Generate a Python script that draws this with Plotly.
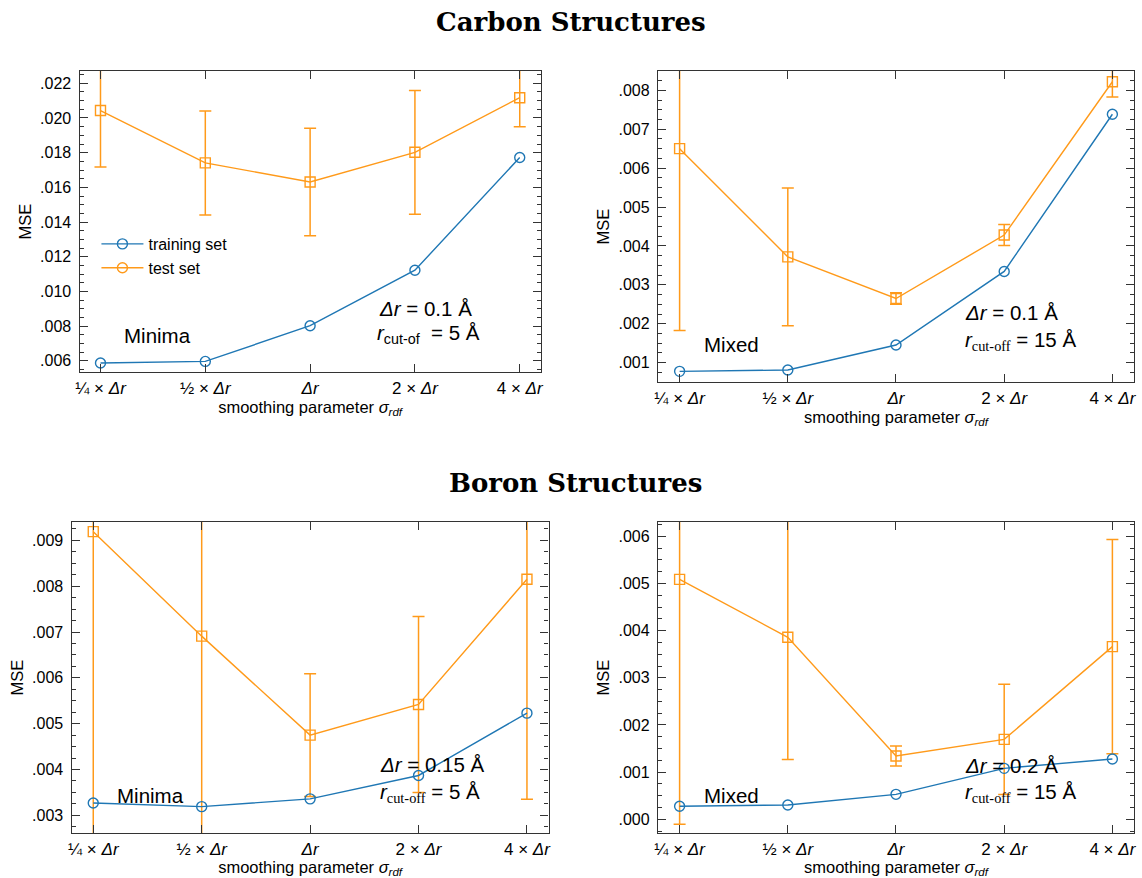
import plotly.graph_objects as go

W, H = 1142, 878

# --- data ---------------------------------------------------------------
x_pos = [0, 1, 2, 3, 4]
x_labels = ["¼ × <i>Δr</i>", "½ × <i>Δr</i>", "<i>Δr</i>", "2 × <i>Δr</i>", "4 × <i>Δr</i>"]

carbon_minima_train = [0.00587, 0.00596, 0.00802, 0.01122, 0.01772]
carbon_minima_test = [0.02043, 0.01741, 0.01631, 0.01802, 0.02117]
carbon_minima_err = [0.00325, 0.00300, 0.00310, 0.00357, 0.00167]

carbon_mixed_train = [0.000778, 0.000812, 0.001454, 0.003345, 0.007384]
carbon_mixed_test = [0.00650, 0.00372, 0.00265, 0.00428, 0.00822]
carbon_mixed_err = [0.00467, 0.00177, 0.00015, 0.00027, 0.00039]

boron_minima_train = [0.00327, 0.00319, 0.00336, 0.00387, 0.00523]
boron_minima_test = [0.00919, 0.00691, 0.00475, 0.00542, 0.00815]
boron_minima_err = [0.0068, 0.0045, 0.00134, 0.00192, 0.0048]

boron_mixed_train = [0.000276, 0.000304, 0.00053, 0.001081, 0.001279]
boron_mixed_test = [0.005088, 0.003859, 0.001343, 0.001695, 0.003661]
boron_mixed_err = [0.00519, 0.00259, 0.00021, 0.00117, 0.00227]

carbon_minima_yticks = [0.006, 0.008, 0.010, 0.012, 0.014, 0.016, 0.018, 0.020, 0.022]
carbon_minima_ylabels = [".006", ".008", ".010", ".012", ".014", ".016", ".018", ".020", ".022"]
carbon_mixed_yticks = [0.001, 0.002, 0.003, 0.004, 0.005, 0.006, 0.007, 0.008]
carbon_mixed_ylabels = [".001", ".002", ".003", ".004", ".005", ".006", ".007", ".008"]
boron_minima_yticks = [0.003, 0.004, 0.005, 0.006, 0.007, 0.008, 0.009]
boron_minima_ylabels = [".003", ".004", ".005", ".006", ".007", ".008", ".009"]
boron_mixed_yticks = [0.000, 0.001, 0.002, 0.003, 0.004, 0.005, 0.006]
boron_mixed_ylabels = [".000", ".001", ".002", ".003", ".004", ".005", ".006"]

BLUE = "#1f77b4"
ORANGE = "#ff9a1a"
AXIS = "#333333"
SANS = "Liberation Sans, Arial, sans-serif"
SERIF = "DejaVu Serif, Liberation Serif, serif"


def px_x(p):
    return p / W


def px_y(p):
    return 1 - p / H


# panel boxes in pixels: (left, right, top, bottom)
panels = [
    dict(box=(76, 540, 71, 372), train=carbon_minima_train, test=carbon_minima_test,
         err=carbon_minima_err, yr=[0.00535, 0.02271], yt=carbon_minima_yticks,
         yl=carbon_minima_ylabels, minor=0.0005),
    dict(box=(658, 1137, 71, 382), train=carbon_mixed_train, test=carbon_mixed_test,
         err=carbon_mixed_err, yr=[0.000504, 0.008496], yt=carbon_mixed_yticks,
         yl=carbon_mixed_ylabels, minor=0.00025),
    dict(box=(68, 548, 522, 833), train=boron_minima_train, test=boron_minima_test,
         err=boron_minima_err, yr=[0.002615, 0.0094], yt=boron_minima_yticks,
         yl=boron_minima_ylabels, minor=0.00025),
    dict(box=(658, 1137, 522, 833), train=boron_mixed_train, test=boron_mixed_test,
         err=boron_mixed_err, yr=[-0.00029, 0.006304], yt=boron_mixed_yticks,
         yl=boron_mixed_ylabels, minor=0.00025),
]

fig = go.Figure()
layout = dict(
    width=W, height=H,
    margin=dict(l=0, r=0, t=0, b=0),
    paper_bgcolor="white", plot_bgcolor="white",
    font=dict(family=SANS, size=16, color="black"),
    showlegend=True,
)

for i, p in enumerate(panels):
    n = "" if i == 0 else str(i + 1)
    xa, ya = "x" + n, "y" + n
    l, r, t, b = p["box"]
    layout["xaxis" + n] = dict(
        domain=[px_x(l), px_x(r)], anchor=ya, range=[-0.2, 4.2],
        tickvals=x_pos, ticktext=x_labels, ticks="inside", ticklen=8,
        tickcolor=AXIS, tickwidth=1, showline=True, linecolor=AXIS, linewidth=1.3,
        mirror="allticks", showgrid=False, zeroline=False,
        tickfont=dict(size=17, family=SANS),
        title=dict(text="smoothing parameter <i>σ<sub>rdf</sub></i>",
                   font=dict(size=16.5, family=SANS), standoff=4),
    )
    layout["yaxis" + n] = dict(
        domain=[px_y(b), px_y(t)], anchor=xa, range=p["yr"],
        tickvals=p["yt"], ticktext=p["yl"], ticks="inside", ticklen=8,
        tickcolor=AXIS, tickwidth=1, showline=True, linecolor=AXIS, linewidth=1.3,
        mirror="allticks", showgrid=False, zeroline=False,
        tickfont=dict(size=16, family=SANS), ticklabelstandoff=4,
        minor=dict(ticks="inside", ticklen=4, tickcolor=AXIS, dtick=p["minor"],
                   tick0=0, showgrid=False),
        title=dict(text="MSE", font=dict(size=16.5, family=SANS), standoff=4),
    )
    fig.add_trace(go.Scatter(
        x=x_pos, y=p["test"], xaxis=xa, yaxis=ya, mode="lines+markers",
        line=dict(color=ORANGE, width=1.4),
        marker=dict(symbol="square-open", size=10, color=ORANGE, line=dict(width=1.4)),
        error_y=dict(type="data", array=p["err"], visible=True, color=ORANGE,
                     thickness=1.5, width=6),
        showlegend=False, name="test set",
    ))
    fig.add_trace(go.Scatter(
        x=x_pos, y=p["train"], xaxis=xa, yaxis=ya, mode="lines+markers",
        line=dict(color=BLUE, width=1.4),
        marker=dict(symbol="circle-open", size=10, color=BLUE, line=dict(width=1.4)),
        showlegend=(i == 0), name="training set",
    ))

# legend entry for the test series (circle marker as in the key)
fig.add_trace(go.Scatter(
    x=[None], y=[None], mode="lines+markers", name="test set",
    line=dict(color=ORANGE, width=1.4),
    marker=dict(symbol="circle-open", size=10, color=ORANGE, line=dict(width=1.4)),
    showlegend=True,
))

layout["legend"] = dict(x=px_x(93), y=px_y(227), xanchor="left", yanchor="top",
                        bgcolor="rgba(0,0,0,0)", font=dict(size=16, family=SANS),
                        itemwidth=42, tracegroupgap=0)

ann = []


def text_at(x, y, s, size=20.5, xanchor="left", font=SANS):
    ann.append(dict(x=px_x(x), y=px_y(y), xref="paper", yref="paper", text=s,
                    showarrow=False, xanchor=xanchor, yanchor="middle",
                    font=dict(size=size, family=font, color="black")))


SUB_SERIF = "<sub><span style='font-family:Liberation Serif'>cut-off</span></sub>"

# panel annotations
text_at(119, 335, "Minima")
text_at(375, 308, "<i>Δr</i> = 0.1 Å")
text_at(373, 334, "<i>r</i><sub>cut-of</sub>  = 5 Å")

text_at(702, 344, "Mixed")
text_at(965, 312, "<i>Δr</i> = 0.1 Å")
text_at(965, 341, "<i>r</i>" + SUB_SERIF + " = 15 Å")

text_at(112, 795, "Minima")
text_at(376, 764, "<i>Δr</i> = 0.15 Å")
text_at(376, 793, "<i>r</i>" + SUB_SERIF + " = 5 Å")

text_at(702, 795, "Mixed")
text_at(965, 765, "<i>Δr</i> = 0.2 Å")
text_at(965, 793, "<i>r</i>" + SUB_SERIF + " = 15 Å")

# group titles
ann.append(dict(x=px_x(570), y=px_y(22), xref="paper", yref="paper",
                text="<b>Carbon Structures</b>", showarrow=False,
                xanchor="center", yanchor="middle",
                font=dict(size=26, family=SERIF, color="black")))
ann.append(dict(x=px_x(575), y=px_y(483), xref="paper", yref="paper",
                text="<b>Boron Structures</b>", showarrow=False,
                xanchor="center", yanchor="middle",
                font=dict(size=26, family=SERIF, color="black")))

layout["annotations"] = ann
fig.update_layout(**layout)
fig.write_html("out.html")
